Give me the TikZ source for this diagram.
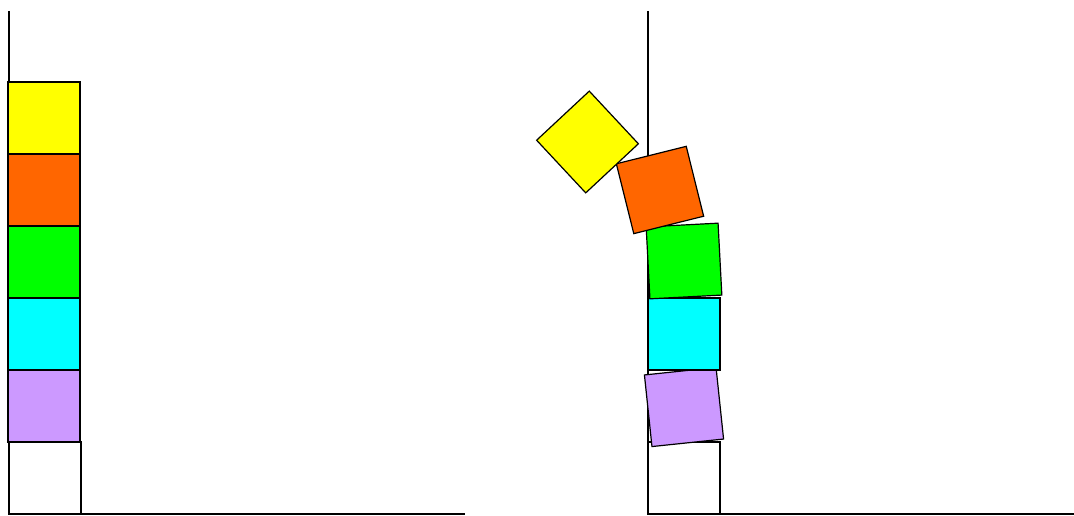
\documentclass[tikz,border=0pt]{standalone}
\definecolor{cyellow}{HTML}{FFFF00}
\definecolor{corange}{HTML}{FF6600}
\definecolor{cgreen}{HTML}{00FF00}
\definecolor{ccyan}{HTML}{00FFFF}
\definecolor{cpurple}{HTML}{CC99FF}
\begin{document}
\begin{tikzpicture}[x=1pt,y=1pt,
  block/.style={draw=black,line width=1.2pt,rectangle,minimum size=72pt,inner sep=0pt,outer sep=0pt},
  axis/.style={draw=black,line width=1.2pt}]
\useasboundingbox (0,0) rectangle (1074,515);
% left axes
\coordinate (ltop) at (9,504);
\coordinate (lorig) at (9,1);
\coordinate (lend) at (465,1);
\draw[axis] (ltop) -- (lorig) -- (lend);
% right axes
\coordinate (rtop) at (648,504);
\coordinate (rorig) at (648,1);
\coordinate (rend) at (1074,1);
\draw[axis] (rtop) -- (rorig) -- (rend);
% left tower
\node[block,fill=white] (lbase) at (45,37) {};
\node[block,fill=cpurple] (lpurple) at (44,109) {};
\node[block,fill=ccyan] (lcyan) at (44,181) {};
\node[block,fill=cgreen] (lgreen) at (44,253) {};
\node[block,fill=corange] (lorange) at (44,325) {};
\node[block,fill=cyellow] (lyellow) at (44,397) {};
% right tower
\node[block,fill=white] (rbase) at (684,37) {};
\node[block,fill=cpurple,rotate=6] (rpurple) at (684,108) {};
\node[block,fill=ccyan] (rcyan) at (684,181) {};
\node[block,fill=cgreen,rotate=3] (rgreen) at (684,254) {};
\node[block,fill=corange,rotate=14] (rorange) at (660,325) {};
\node[block,fill=cyellow,rotate=43] (ryellow) at (587.5,373) {};
\end{tikzpicture}
\end{document}
